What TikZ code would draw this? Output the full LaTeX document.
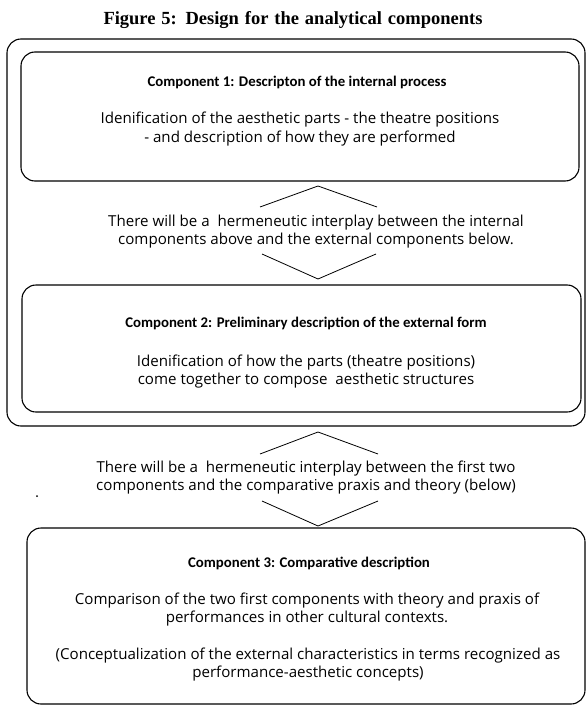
\documentclass[tikz,border=0pt]{standalone}
\usepackage{fontspec}
\setmainfont{Open Sans}
\newfontfamily\headfont{Carlito}
\newfontfamily\titlefont{Liberation Serif}
\begin{document}
\begin{tikzpicture}[x=1pt,y=-1pt,
  box/.style={draw, line width=1.1pt, rounded corners=14pt, inner sep=0pt},
  chev/.style={draw, line width=0.8pt},
  txt/.style={align=center, font=\fontsize{15.1}{18.5}\selectfont, inner sep=0pt},
  head/.style={font=\headfont\fontsize{14.8}{18.5}\selectfont\bfseries, inner sep=0pt}]
\useasboundingbox (0,0) rectangle (587,706);
\node[font=\titlefont\fontsize{18.5}{20}\selectfont\bfseries, inner sep=0pt] (title) at (293,20)
  {\makebox[379pt][s]{Figure 5: Design for the analytical components}};
% boxes
\node[box, minimum width=578pt, minimum height=387pt] (outer) at (296,232.5) {};
\node[box, minimum width=558pt, minimum height=129pt] (b1) at (300,116.5) {};
\node[box, minimum width=559pt, minimum height=127pt] (b2) at (301.5,348.5) {};
\node[box, minimum width=558pt, minimum height=176pt] (b3) at (306,616) {};
% box 1 text
\node[head] (h1) at (297,82) {Component 1: Descripton of the internal process};
\node[txt] (t1) at (300,129) {Idenification of the aesthetic parts - the theatre positions\\- and description of how they are performed};
% middle text 1
\node[txt] (m1) at (316,231.5) {There will be a \ hermeneutic interplay between the internal\\components above and the external components below.};
% box 2 text
\node[head] (h2) at (306,323) {Component 2: Preliminary description of the external form};
\node[txt] (t2) at (306,371.5) {Idenification of how the parts (theatre positions)\\come together to compose \ aesthetic structures};
% middle text 2
\node[txt] (m2) at (306,477.5) {There will be a \ hermeneutic interplay between the first two\\components and the comparative praxis and theory (below)};
% box 3 text
\node[head] (h3) at (309,563) {Component 3: Comparative description};
\node[txt] (t3) at (307,609.5) {Comparison of the two first components with theory and praxis of\\performances in other cultural contexts.};
\node[txt] (t4) at (308,664.5) {(Conceptualization of the external characteristics in terms recognized as\\performance-aesthetic concepts)};
% chevrons
\coordinate (c1a) at (260,207); \coordinate (c1b) at (318,186); \coordinate (c1c) at (377,207);
\coordinate (c2a) at (262,254); \coordinate (c2b) at (318,279); \coordinate (c2c) at (376,254);
\coordinate (c3a) at (260,454); \coordinate (c3b) at (318,432); \coordinate (c3c) at (378,454);
\coordinate (c4a) at (262,501); \coordinate (c4b) at (318,526); \coordinate (c4c) at (378,501);
\draw[chev] (c1a) -- (c1b) -- (c1c);
\draw[chev] (c2a) -- (c2b) -- (c2c);
\draw[chev] (c3a) -- (c3b) -- (c3c);
\draw[chev] (c4a) -- (c4b) -- (c4c);
% stray dot
\fill (37,496) circle (1pt);
\end{tikzpicture}
\end{document}
